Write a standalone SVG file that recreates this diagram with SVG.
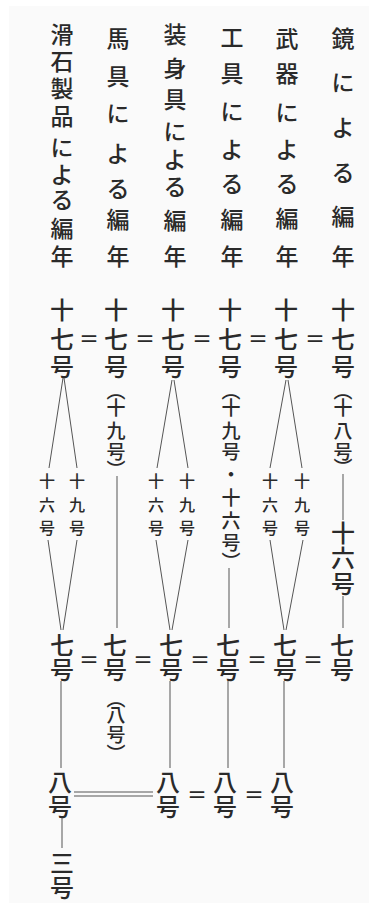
<svg xmlns="http://www.w3.org/2000/svg" width="369" height="903" viewBox="0 0 369 903">
<style>
text{font-family:"Noto Sans CJK JP","Noto Sans CJK SC",sans-serif;font-weight:500;fill:#2a2a2a;text-anchor:middle;dominant-baseline:central}
.h{font-size:23px}
.m{font-size:24px}
.p{font-size:19px}
.s{font-size:16px}
.eq{font-size:20px}
#connectors line{stroke:#555;stroke-width:1;fill:none}
</style>
<rect width="369" height="903" fill="#fff"/>
<rect x="9" y="6" width="360" height="897" fill="#fafafa"/>

<g id="headers">
<g id="h-kagami"><text class="h" x="343 343 343 343 343 343" y="37 81 126 171 215 255">鏡による編年</text></g>
<g id="h-buki"><text class="h" x="287 287 287 287 287 287 287" y="37 72 111 148 182 217 255">武器による編年</text></g>
<g id="h-kougu"><text class="h" x="232 232 232 232 232 232 232" y="36 72 110 148 182 218 255">工具による編年</text></g>
<g id="h-soushingu"><text class="h" x="175 175 175 175 175 175 175 175" y="33 67 98 130 158 185 219 255">装身具による編年</text></g>
<g id="h-bagu"><text class="h" x="118 118 118 118 118 118 118" y="37 75 112 152 187 218 255">馬具による編年</text></g>
<g id="h-kasseki"><text class="h" x="62 62 62 62 62 62 62 62 62" y="33 60 87 115 146 173 198 227 255">滑石製品による編年</text></g>
</g>

<g id="row17">
<g id="c1-17"><text class="m" x="62 62 62" y="308 337 365">十七号</text></g>
<g id="c2-17"><text class="m" x="116 116 116" y="308 337 365">十七号</text><text class="p" x="116 116 116 116 116" y="389 406 429 450 468">︵十九号︶</text></g>
<g id="c3-17"><text class="m" x="173 173 173" y="308 337 365">十七号</text></g>
<g id="c4-17"><text class="m" x="230 230 230" y="308 337 365">十七号</text><text class="p" x="231 231 231 231 231 231 231 231 231" y="389 406 429 450 473 496 519 541 560">︵十九号・十六号︶</text></g>
<g id="c5-17"><text class="m" x="286 286 286" y="308 337 365">十七号</text></g>
<g id="c6-17"><text class="m" x="343 343 343" y="308 337 365">十七号</text><text class="p" x="343 343 343 343 343" y="389 406 429 450 466">︵十八号︶</text></g>
<g id="eq17">
<text class="eq" x="89" y="338">＝</text>
<text class="eq" x="145" y="338">＝</text>
<text class="eq" x="202" y="338">＝</text>
<text class="eq" x="258" y="338">＝</text>
<text class="eq" x="315" y="338">＝</text>
</g>
</g>

<g id="row16">
<g id="c1-16"><text class="s" x="47 47 47" y="480 504 527">十六号</text></g>
<g id="c1-19"><text class="s" x="77 77 77" y="480 504 527">十九号</text></g>
<g id="c3-16"><text class="s" x="156 156 156" y="480 504 527">十六号</text></g>
<g id="c3-19"><text class="s" x="187 187 187" y="480 504 527">十九号</text></g>
<g id="c5-16"><text class="s" x="270 270 270" y="480 504 527">十六号</text></g>
<g id="c5-19"><text class="s" x="302 302 302" y="480 504 527">十九号</text></g>
<g id="c6-16"><text class="m" x="343 343 343" y="531 556 582">十六号</text></g>
</g>

<g id="row7">
<g id="c1-7"><text class="m" x="62 62" y="643 668">七号</text></g>
<g id="c2-7"><text class="m" x="115 115" y="643 668">七号</text><text class="p" x="116 116 116 116" y="697 713 733 752">︵八号︶</text></g>
<g id="c3-7"><text class="m" x="171 171" y="643 668">七号</text></g>
<g id="c4-7"><text class="m" x="228 228" y="643 668">七号</text></g>
<g id="c5-7"><text class="m" x="285 285" y="643 668">七号</text></g>
<g id="c6-7"><text class="m" x="342 342" y="643 668">七号</text></g>
<g id="eq7">
<text class="eq" x="89" y="659">＝</text>
<text class="eq" x="143" y="659">＝</text>
<text class="eq" x="200" y="659">＝</text>
<text class="eq" x="257" y="659">＝</text>
<text class="eq" x="313" y="659">＝</text>
</g>
</g>

<g id="row8">
<g id="c1-8"><text class="m" x="60 60" y="780 805">八号</text></g>
<g id="c3-8"><text class="m" x="168 168" y="780 805">八号</text></g>
<g id="c4-8"><text class="m" x="225 225" y="780 805">八号</text></g>
<g id="c5-8"><text class="m" x="282 282" y="780 805">八号</text></g>
<g id="eq8">
<text class="eq" x="197" y="794">＝</text>
<text class="eq" x="254" y="794">＝</text>
</g>
</g>

<g id="c1-3"><text class="m" x="62 62" y="861 886">三号</text></g>

<g id="connectors">
<line x1="63" y1="378" x2="49" y2="468"/>
<line x1="64" y1="378" x2="77" y2="468"/>
<line x1="48" y1="540" x2="61" y2="630"/>
<line x1="77" y1="540" x2="63" y2="630"/>
<line x1="172" y1="380" x2="157" y2="468"/>
<line x1="174" y1="380" x2="188" y2="468"/>
<line x1="156" y1="540" x2="170" y2="630"/>
<line x1="188" y1="540" x2="172" y2="630"/>
<line x1="286" y1="380" x2="270" y2="468"/>
<line x1="288" y1="380" x2="302" y2="468"/>
<line x1="270" y1="540" x2="284" y2="630"/>
<line x1="303" y1="540" x2="286" y2="630"/>
<line x1="117" y1="476" x2="117" y2="628"/>
<line x1="229" y1="568" x2="229" y2="628"/>
<line x1="343" y1="474" x2="343" y2="520"/>
<line x1="343" y1="596" x2="343" y2="628"/>
<line x1="61" y1="681" x2="61" y2="768"/>
<line x1="170" y1="681" x2="170" y2="768"/>
<line x1="228" y1="681" x2="228" y2="768"/>
<line x1="284" y1="681" x2="284" y2="768"/>
<line x1="74" y1="792" x2="153" y2="792"/>
<line x1="74" y1="796" x2="153" y2="796"/>
<line x1="62" y1="818" x2="62" y2="848"/>
</g>
</svg>
